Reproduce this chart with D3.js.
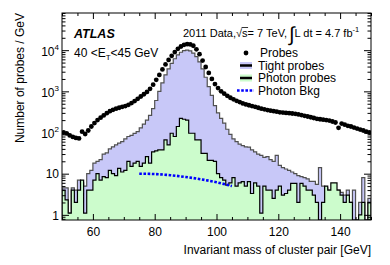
<!DOCTYPE html>
<html><head><meta charset="utf-8">
<script src="https://cdn.jsdelivr.net/npm/d3@7"></script>
<style>
body{margin:0;background:#fff}
svg{display:block}
text{font-family:"Liberation Sans",Arial,Helvetica,sans-serif;fill:#000}
</style>
</head><body>
<svg id="c" width="390" height="265"></svg>
<script>
// ---- data (1 GeV bins, lower edges 50..149) ----
const binLow = d3.range(50, 150);
const probes = [
  100, 95, 85, 78, 74, 72, 105, 92, 112, 140,
  170, 200, 230, 260, 295, 330, 355, 380, 400, 420,
  440, 470, 520, 580, 660, 750, 850, 970, 1150, 1450,
  1900, 2500, 3400, 4500, 5800, 7300, 9000, 10800, 12300, 13500,
  14000, 13800, 12800, 10500, 8000, 5600, 3900, 2800, 2000, 1500,
  1200, 1000, 880, 780, 700, 640, 590, 550, 510, 480,
  460, 440, 420, 400, 380, 365, 350, 340, 330, 320,
  310, 305, 300, 295, 290, 285, 275, 265, 255, 245,
  235, 225, 215, 210, 205, 200, 195, 185, 175, 130,
  165, 155, 145, 140, 132, 125, 118, 112, 105, 100
];
const tightProbes = [
  4.5, 4.5, 1.1, 4.5, 4, 7, 6, 5, 10, 12,
  18, 20, 22, 30, 32, 40, 45, 50, 55, 60,
  70, 80, 85, 95, 105, 130, 160, 200, 260, 380,
  600, 1000, 1600, 2500, 3500, 4800, 6200, 7700, 8900, 9800,
  10000, 9600, 8500, 7000, 5200, 3500, 2200, 1300, 800, 450,
  300, 220, 170, 120, 90, 70, 60, 52, 48, 45,
  44, 38, 34, 30, 28, 25, 26, 22, 20, 28,
  16, 14, 13, 12, 11, 10, 9, 8.5, 8, 7.5,
  6.5, 6.5, 5.5, 14, 5, 4.5, 4, 4, 3.5, 4,
  3.5, 3, 4, 2, 4, 0.3, 2, 8, 0.3, 2.5
];
const photonProbes = [
  4, 2.3, 1.1, 4, 2, 4, 7, 1.1, 4, 4,
  7, 10, 7, 8.5, 8, 12, 10, 9, 13.5, 11,
  12, 20, 15, 18, 20, 15, 18, 26, 18, 34,
  36, 38, 38, 66, 50, 96, 80, 140, 220, 210,
  200, 96, 96, 66, 66, 31, 31, 21, 21, 20,
  10, 8, 7, 5.3, 6, 8, 5, 6, 6.4, 5,
  6.4, 3.3, 6, 5, 1.1, 5, 4, 4, 2.5, 4,
  5, 3, 3.3, 4, 5.8, 5.8, 2, 5.8, 5, 4,
  4, 3, 2, 0, 2, 5, 4, 6, 6, 4,
  3, 2, 3, 2, 0, 0, 1, 2, 0, 2
];
const bkgMass = [75, 80, 85, 90, 95, 100, 105];
const bkgValues = [10, 9.8, 9.2, 8.3, 7.3, 6.2, 5.0];
const xTickValues = [60, 80, 100, 120, 140];
const yTickValues = [1, 10, 100, 1000, 10000];
const yTickBase = ["1", "10", "10", "10", "10"];
const yTickExp = ["", "", "2", "3", "4"];
const legendLabels = ["Probes", "Tight probes", "Photon probes", "Photon Bkg"];

// ---- layout ----
const L = 62, R = 371, T = 13, B = 220;
const svg = d3.select("#c");
const x = d3.scaleLinear().domain([50, 150]).range([L, R]);
const y = d3.scaleLog().domain([0.75, 80000]).range([B, T]).clamp(true);
const yv = v => y(Math.max(v, 0.05));

const colTight = "#c8c8f8", colPhoton = "#ccfccc";

function stepPath(vals) {
  let p = `M${x(50)},${B}`;
  vals.forEach((v, i) => {
    const yy = yv(v);
    p += `L${x(binLow[i])},${yy}L${x(binLow[i] + 1)},${yy}`;
  });
  p += `L${x(150)},${B}`;
  return p;
}

const plot = svg.append("g");
plot.append("defs").append("clipPath").attr("id", "clip")
  .append("rect").attr("x", L).attr("y", T).attr("width", R - L).attr("height", B - T);
const g = plot.append("g").attr("clip-path", "url(#clip)");

g.append("path").attr("d", stepPath(tightProbes)).attr("fill", colTight)
  .attr("stroke", "#505050").attr("stroke-width", 1.2);
g.append("path").attr("d", stepPath(photonProbes)).attr("fill", colPhoton)
  .attr("stroke", "#000").attr("stroke-width", 1.2);

const bkgLine = d3.line().x((d, i) => x(bkgMass[i])).y(d => yv(d)).curve(d3.curveMonotoneX);
g.append("path").attr("d", bkgLine(bkgValues)).attr("fill", "none")
  .attr("stroke", "#0000ff").attr("stroke-width", 2.6).attr("stroke-dasharray", "2.6,1.6");

g.selectAll("circle.p").data(probes).join("circle").attr("class", "p")
  .attr("cx", (d, i) => x(binLow[i] + 0.5)).attr("cy", d => yv(d)).attr("r", 2.4).attr("fill", "#000");

// ---- axes (ticks inside) ----
const xMinor = d3.range(50, 151, 5).filter(v => v % 20 !== 0);
const xMajor = d3.range(60, 150, 20);
function styleAxis(sel) { sel.select(".domain").remove(); sel.selectAll("line").attr("stroke", "#000"); }

svg.append("g").attr("transform", `translate(0,${B})`)
  .call(d3.axisBottom(x).tickValues(xMinor).tickSize(-3).tickFormat("")).call(styleAxis);
svg.append("g").attr("transform", `translate(0,${T})`)
  .call(d3.axisTop(x).tickValues(xMinor).tickSize(-3).tickFormat("")).call(styleAxis);
svg.append("g").attr("transform", `translate(0,${T})`)
  .call(d3.axisTop(x).tickValues(xMajor).tickSize(-6).tickFormat("")).call(styleAxis);
const xb = svg.append("g").attr("transform", `translate(0,${B})`)
  .call(d3.axisBottom(x).tickValues(xTickValues).tickSize(-6).tickPadding(7)).call(styleAxis);
xb.selectAll("text").attr("font-size", 12).attr("font-family", null);

const yMinor = [];
for (let e = -1; e <= 4; e++) for (let k = 2; k <= 9; k++) {
  const v = k * Math.pow(10, e);
  if (v >= 0.75 && v <= 80000) yMinor.push(v);
}
svg.append("g").attr("transform", `translate(${L},0)`)
  .call(d3.axisLeft(y).tickValues(yMinor).tickSize(-3.5).tickFormat("")).call(styleAxis);
svg.append("g").attr("transform", `translate(${R},0)`)
  .call(d3.axisRight(y).tickValues(yMinor).tickSize(-3.5).tickFormat("")).call(styleAxis);
svg.append("g").attr("transform", `translate(${R},0)`)
  .call(d3.axisRight(y).tickValues(yTickValues).tickSize(-7).tickFormat("")).call(styleAxis);
const yl = svg.append("g").attr("transform", `translate(${L},0)`)
  .call(d3.axisLeft(y).tickValues(yTickValues).tickSize(-7).tickPadding(3).tickFormat(""))
  .call(styleAxis);
yl.selectAll(".tick").each(function (d, i) {
  const t = d3.select(this).select("text").attr("font-size", 12).attr("font-family", null)
    .attr("dy", yTickExp[i] ? "0.45em" : "0.35em");
  t.append("tspan").text(yTickBase[i]);
  if (yTickExp[i]) t.append("tspan").attr("font-size", 8).attr("dy", "-0.75em").text(yTickExp[i]);
});

svg.append("rect").attr("x", L).attr("y", T).attr("width", R - L).attr("height", B - T)
  .attr("fill", "none").attr("stroke", "#000").attr("stroke-width", 1);

// ---- axis titles ----
svg.append("text").attr("x", R).attr("y", 254).attr("text-anchor", "end").attr("font-size", 12)
  .text("Invariant mass of cluster pair [GeV]");
svg.append("text").attr("transform", "translate(24,13) rotate(-90)").attr("text-anchor", "end")
  .attr("font-size", 12).text("Number of probes / GeV");

// ---- labels ----
svg.append("text").attr("x", 74).attr("y", 38).attr("font-size", 12.5).attr("font-weight", "bold")
  .attr("font-style", "italic").text("ATLAS");
const et = svg.append("text").attr("x", 74).attr("y", 57).attr("font-size", 12);
et.append("tspan").text("40 <E");
et.append("tspan").attr("font-size", 8).attr("dy", 3).text("T");
et.append("tspan").attr("dy", -3).text("<45 GeV");

// title with sqrt and integral
(function () {
  let cx = 183; const by = 37; const fs = 11;
  function put(str, f, dy) {
    const t = svg.append("text").attr("x", cx).attr("y", by + (dy || 0)).attr("font-size", f).text(str);
    const w = t.node().getComputedTextLength(); const x0 = cx; cx += w; return [x0, w];
  }
  put("2011 Data,", fs);
  const [rx, rw] = put("\u221A", fs);
  const [sx, sw] = put("s", fs);
  svg.append("line").attr("x1", rx + rw - 0.5).attr("x2", sx + sw + 0.5).attr("y1", by - 9.5).attr("y2", by - 9.5)
    .attr("stroke", "#000").attr("stroke-width", 0.8);
  put(" = 7 TeV,", fs);
  cx += 2;
  put("\u222B", 20, 4);
  put(" L dt = 4.7 fb", fs);
  put("-1", 7.5, -5);
})();

// ---- legend ----
const legY = [53, 65.5, 78, 90.5];
const lg = svg.append("g");
lg.append("circle").attr("cx", 246).attr("cy", legY[0]).attr("r", 2.4).attr("fill", "#000");
lg.append("rect").attr("x", 240).attr("y", legY[1] - 3.5).attr("width", 12).attr("height", 7).attr("fill", colTight);
lg.append("line").attr("x1", 240).attr("x2", 252).attr("y1", legY[1]).attr("y2", legY[1]).attr("stroke", "#000").attr("stroke-width", 2.5);
lg.append("rect").attr("x", 240).attr("y", legY[2] - 3.5).attr("width", 12).attr("height", 7).attr("fill", colPhoton);
lg.append("line").attr("x1", 240).attr("x2", 252).attr("y1", legY[2]).attr("y2", legY[2]).attr("stroke", "#000").attr("stroke-width", 2.5);
lg.append("line").attr("x1", 237).attr("x2", 254).attr("y1", legY[3]).attr("y2", legY[3]).attr("stroke", "#0000ff")
  .attr("stroke-width", 2.6).attr("stroke-dasharray", "2.6,1.6");
legendLabels.forEach((s, i) => {
  lg.append("text").attr("x", i === 0 ? 260 : 258).attr("y", legY[i]).attr("dy", "0.35em").attr("font-size", 12).text(s);
});
</script>
</body></html>
